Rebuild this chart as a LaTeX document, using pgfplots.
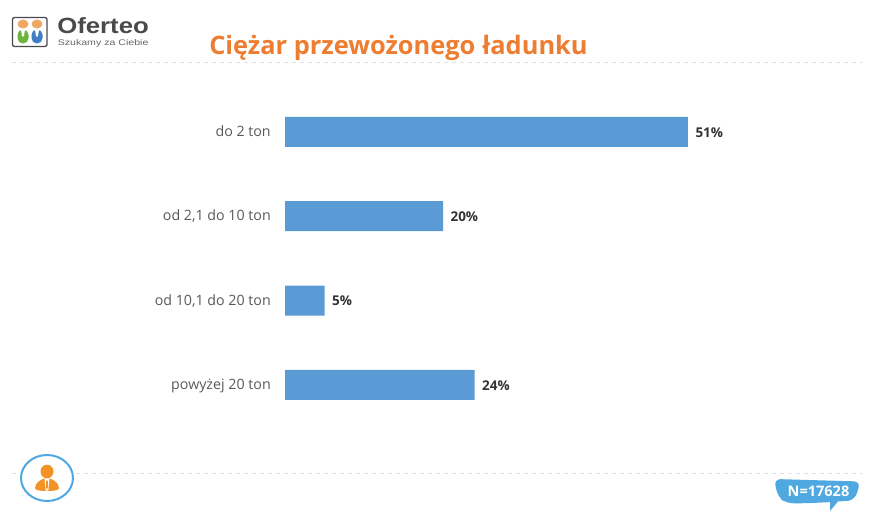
\documentclass[border=0pt]{standalone}
\usepackage{pgfplots}
\pgfplotsset{compat=1.18}
\usepackage{fontspec}
\setmainfont{Open Sans}
\newfontfamily\logofont{Liberation Sans}
\definecolor{barblue}{HTML}{5B9BD5}
\definecolor{titleor}{HTML}{ED7D31}
\definecolor{labgray}{HTML}{595959}
\definecolor{valdark}{HTML}{333333}
\definecolor{rulegray}{HTML}{E2E2E2}
\definecolor{bubble}{HTML}{4FA8E0}
\definecolor{iconor}{HTML}{F39325}
\definecolor{logohead}{HTML}{EFA764}
\definecolor{logogreen}{HTML}{6DB33F}
\definecolor{logoblue}{HTML}{3F80C4}
\definecolor{logogray}{HTML}{4A4A4A}
\begin{document}
\begin{tikzpicture}
\begin{scope}[x=0.75pt,y=-0.75pt]
\path[use as bounding box,fill=white] (0,0) rectangle (876,517);
% rules
\draw[rulegray,line width=0.75pt,dash pattern=on 3pt off 3pt] (12,63) -- (863,63);
\draw[rulegray,line width=0.75pt,dash pattern=on 3pt off 3pt] (12,473.5) -- (863,473.5);
% title
\node[anchor=base west,inner sep=0pt,text=titleor,font=\fontsize{19.05}{22}\selectfont\bfseries] at (209,54.5) {Ciężar przewożonego ładunku};
% logo
\draw[logogray,line width=1pt,rounded corners=1.5pt,fill=white] (12.5,17.5) rectangle (47,46.5);
\fill[logohead] (23,24) ellipse (5.5 and 4.5);
\fill[logohead] (37,24) ellipse (5.5 and 4.5);
\fill[logogreen,rounded corners=4pt] (17.5,29.5) rectangle (28.5,43.5);
\fill[logoblue,rounded corners=4pt] (31.5,29.5) rectangle (42.5,43.5);
\fill[white] (21,29.5) -- (25,29.5) -- (24,36) -- (23,37) -- (22,36) -- cycle;
\fill[white] (35,29.5) -- (39,29.5) -- (38,36) -- (37,37) -- (36,36) -- cycle;
\node[anchor=base west,inner sep=0pt,xscale=1.17,text=logogray,font=\logofont\fontsize{16.5}{18}\selectfont\bfseries] at (57,33.5) {Oferteo};
\node[anchor=base west,inner sep=0pt,xscale=1.28,text=black!60,font=\logofont\fontsize{6.2}{7}\selectfont] at (57.5,46) {Szukamy za Ciebie};
% person icon
\draw[bubble,line width=1.5pt,fill=white] (47,478) ellipse (26 and 23);
\fill[iconor] (47,471.5) ellipse (6.5 and 6.8);
\fill[iconor] (35,488) .. controls (35.5,482) and (41,480) .. (44,478.5) -- (50,478.5) .. controls (53,480) and (58.5,482) .. (59,488) .. controls (59,490) and (55,491) .. (47,491) .. controls (39,491) and (35,490) .. (35,488) -- cycle;
\fill[white] (44.5,478.5) -- (49.5,478.5) -- (48.3,490.5) -- (45.7,490.5) -- cycle;
\fill[iconor] (46.2,480.5) -- (47.8,480.5) -- (48.2,487) -- (47,489.5) -- (45.8,487) -- cycle;
% speech bubble
\fill[bubble] (830,499) -- (840,499) -- (830,511) -- cycle;
\fill[bubble,rounded corners=5pt] (774,479) -- (860.5,481.5) -- (855,499.5) .. controls (850,500.5) and (845,501) .. (838,501.5) .. controls (815,503) and (800,503.5) .. (786,503) -- (778,497) -- cycle;
\node[text=white,inner sep=0pt,font=\fontsize{10.9}{12}\selectfont\bfseries] at (818.5,491.5) {N=17628};
\end{scope}
\begin{axis}[
  at={(213.75pt,-320.25pt)}, anchor=south west,
  scale only axis, width=355.5pt, height=252.98pt,
  xmin=0, xmax=60, ymin=-0.5, ymax=3.5, y dir=reverse,
  axis line style={draw=none}, xtick=\empty,
  ytick={0,1,2,3},
  yticklabels={do 2 ton,{od 2,1 do 10 ton},{od 10,1 do 20 ton},powyżej 20 ton},
  major tick length=0pt,
  y tick label style={text=labgray,font=\fontsize{10.67}{12}\selectfont,anchor=east,xshift=-10.5pt,inner sep=0pt,text height=8.4pt,text depth=2.6pt,yshift=-0.6pt},
  clip=false,
  nodes near coords={\pgfmathprintnumber[assume math mode=true]{\pgfplotspointmeta}\%},
  point meta=x,
  nodes near coords style={text=valdark,font=\fontsize{10.1}{11}\selectfont\bfseries,anchor=west,xshift=5.5pt,yshift=-0.5pt,inner sep=0pt},
]
\addplot[xbar,bar width=22.5pt,fill=barblue,draw=none,bar shift=0pt] coordinates {(51,0) (20,1) (5,2) (24,3)};
\end{axis}
\end{tikzpicture}
\end{document}
